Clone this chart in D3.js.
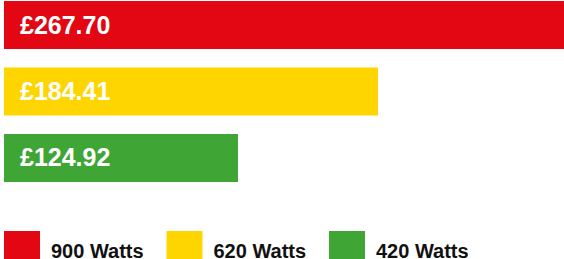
<!DOCTYPE html>
<html>
<head>
<meta charset="utf-8">
<script src="https://cdn.jsdelivr.net/npm/d3@7"></script>
<style>
  html, body { margin: 0; padding: 0; background: #fff; overflow: hidden; }
  text { font-family: "Liberation Sans", Arial, Helvetica, sans-serif; font-weight: bold; }
</style>
</head>
<body>
<div id="chart"></div>
<script>
const width = 564;
const height = 259;

// data
const labels = ["900 Watts", "620 Watts", "420 Watts"];
const costs = [267.70, 184.41, 124.92];
const colors = ["#E30613", "#FFD500", "#3FA535"];

const rows = labels.map((l, i) => ({ label: l, cost: costs[i], color: colors[i] }));

const svg = d3.select("#chart")
  .append("svg")
  .attr("width", width)
  .attr("height", height);

// bars don't start at zero in the original, red one runs off the edge
const x = d3.scaleLinear()
  .domain([25.5, 267.70])
  .range([4, 574]);

const y = d3.scaleBand()
  .domain(labels)
  .range([1, 182])
  .paddingInner(0.278)
  .paddingOuter(0);

const bar = svg.selectAll("g.bar")
  .data(rows)
  .join("g")
  .attr("class", "bar");

bar.append("rect")
  .attr("x", x(25.5))
  .attr("y", d => y(d.label))
  .attr("width", d => x(d.cost) - x(25.5))
  .attr("height", y.bandwidth())
  .attr("fill", d => d.color);

bar.append("text")
  .attr("x", 20)
  .attr("y", d => y(d.label) + y.bandwidth() / 2 + 8.5)
  .attr("fill", "#fff")
  .style("font-size", "25px")
  .text(d => "£" + d3.format(".2f")(d.cost));

// legend
const legend = svg.selectAll("g.legend")
  .data(rows)
  .join("g")
  .attr("class", "legend")
  .attr("transform", (d, i) => `translate(${4 + i * 162.5},231)`);

legend.append("rect")
  .attr("width", 36)
  .attr("height", 36)
  .attr("fill", d => d.color);

legend.append("text")
  .attr("x", 47)
  .attr("y", 26.5)
  .attr("fill", "#111")
  .style("font-size", "20px")
  .text(d => d.label);
</script>
</body>
</html>
